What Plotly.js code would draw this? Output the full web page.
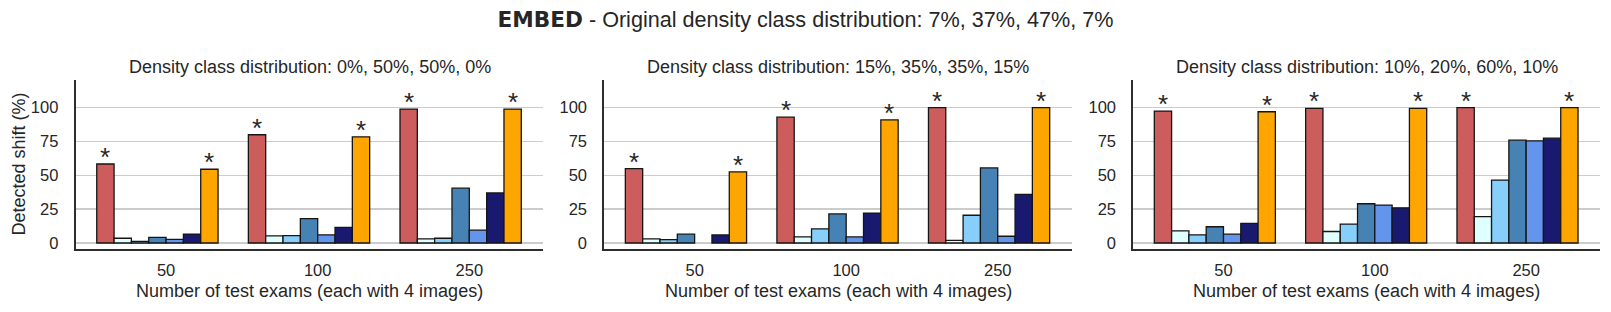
<!DOCTYPE html>
<html><head><meta charset="utf-8">
<script src="https://cdn.plot.ly/plotly-3.0.1.min.js"></script>
<style>html,body{margin:0;padding:0;background:#fff}</style>
</head><body><div id="chart" style="width:1611px;height:312px"></div>
<script>
// ---- data ----
const groups = ['50', '100', '250'];
const seriesNames = ['Series 1', 'Series 2', 'Series 3', 'Series 4', 'Series 5', 'Series 6', 'Series 7'];
const seriesColors = ['#CD5C5C', '#E0FFFF', '#87CEFA', '#4682B4', '#6495ED', '#191970', '#FFA500'];
const panelTitles = ['Density class distribution: 0%, 50%, 50%, 0%',
                     'Density class distribution: 15%, 35%, 35%, 15%',
                     'Density class distribution: 10%, 20%, 60%, 10%'];
// rows = series, columns = groups (50, 100, 250)
const panel1 = [
  [58.4, 80, 99],
  [3.5, 5.2, 3],
  [1.2, 5.5, 3.5],
  [4.2, 18, 40.5],
  [2.7, 6, 9.5],
  [6.6, 11.5, 37],
  [54.5, 78.5, 99]
];
const panel2 = [
  [55, 93, 100],
  [3, 4.5, 2],
  [2.5, 10.5, 20.5],
  [6.5, 21.5, 55.5],
  [null, 4.5, 5],
  [6, 22, 36],
  [52.5, 91, 100]
];
const panel3 = [
  [97.5, 99.5, 100],
  [9, 8.5, 19.5],
  [6, 14, 46.5],
  [12, 29, 76],
  [6.5, 28, 75.5],
  [14.5, 26, 77.5],
  [97, 99.5, 100]
];
// series whose bars carry a significance mark (*)
const starredSeries = [0, 6];
const yTicks = [0, 25, 50, 75, 100];
const mainTitle = '<span style="font-family:DejaVu Sans"><b>EMBED</b></span> - Original density class distribution: 7%, 37%, 47%, 7%';
const xLabel = 'Number of test exams (each with 4 images)';
const yLabel = 'Detected shift (%)';

// ---- layout constants ----
const W = 1611, H = 312;
const FONT = 'Liberation Sans, Arial, Helvetica, sans-serif';
const TXT = '#262626';
const SPINE = '#2e2e2e';
const panels = [panel1, panel2, panel3];
const xDomPx = [[75.7, 543.3], [604.3, 1071.7], [1133.3, 1600]];
const yDomPx = [80, 249];
const slot = 0.8 / 7;
const start = -0.4 - slot / 2;

const traces = [];
const annotations = [];
const layout = {
  width: W, height: H,
  margin: {l: 0, r: 0, t: 0, b: 0},
  paper_bgcolor: '#fff', plot_bgcolor: '#fff',
  barmode: 'overlay',
  showlegend: false,
  font: {family: FONT, color: TXT},
  title: {text: mainTitle, font: {family: FONT, size: 21.6, color: TXT},
          x: 0.5, xanchor: 'center', xref: 'paper', y: 1 - 19.3 / H, yref: 'container', yanchor: 'middle'}
};

panels.forEach((pdata, k) => {
  const sfx = k === 0 ? '' : String(k + 1);
  pdata.forEach((vals, i) => {
    traces.push({
      type: 'bar', name: seriesNames[i],
      x: [0, 1, 2], y: vals,
      xaxis: 'x' + sfx, yaxis: 'y' + sfx,
      width: slot, offset: start + i * slot,
      marker: {color: seriesColors[i], line: {color: '#151515', width: 1.3}},
      hovertemplate: '%{y}<extra></extra>'
    });
    if (starredSeries.includes(i)) {
      vals.forEach((v, j) => {
        if (v === null) return;
        annotations.push({
          xref: 'x' + sfx, yref: 'y' + sfx,
          x: j + start + i * slot + slot / 2, y: v,
          text: '*', showarrow: false, xanchor: 'center', yanchor: 'middle', yshift: 7,
          font: {family: FONT, size: 26, color: TXT}
        });
      });
    }
  });
  layout['xaxis' + sfx] = {
    domain: [xDomPx[k][0] / W, xDomPx[k][1] / W], anchor: 'y' + sfx,
    range: [-0.596, 2.488], tickmode: 'array', tickvals: [0, 1, 2], ticktext: groups,
    showline: true, linecolor: SPINE, linewidth: 2, showgrid: false, zeroline: false,
    ticks: '', ticklabelstandoff: 5, tickfont: {family: FONT, size: 16.5, color: TXT}, fixedrange: true
  };
  layout['yaxis' + sfx] = {
    domain: [(H - yDomPx[1]) / H, (H - yDomPx[0]) / H], anchor: 'x' + sfx,
    range: [-4.43, 120.47], tickmode: 'array', tickvals: yTicks,
    showline: true, linecolor: SPINE, linewidth: 2,
    showgrid: true, gridcolor: '#cccccc', gridwidth: 1.5, zeroline: false,
    ticks: '', ticklabelstandoff: 12, tickfont: {family: FONT, size: 16.5, color: TXT}, fixedrange: true
  };
  annotations.push({
    xref: 'x' + sfx + ' domain', yref: 'paper', x: 0.5, y: 1 - 66.5 / H,
    text: panelTitles[k], showarrow: false, xanchor: 'center', yanchor: 'middle',
    font: {family: FONT, size: 18, color: TXT}
  });
  annotations.push({
    xref: 'x' + sfx + ' domain', yref: 'paper', x: 0.5, y: 1 - 291 / H,
    text: xLabel, showarrow: false, xanchor: 'center', yanchor: 'middle',
    font: {family: FONT, size: 18, color: TXT}
  });
});
annotations.push({
  xref: 'paper', yref: 'y domain', x: 18 / W, y: 0.5,
  text: yLabel, showarrow: false, xanchor: 'center', yanchor: 'middle', textangle: -90,
  font: {family: FONT, size: 18, color: TXT}
});
layout.annotations = annotations;

Plotly.newPlot('chart', traces, layout, {displayModeBar: false, staticPlot: true});
</script></body></html>
